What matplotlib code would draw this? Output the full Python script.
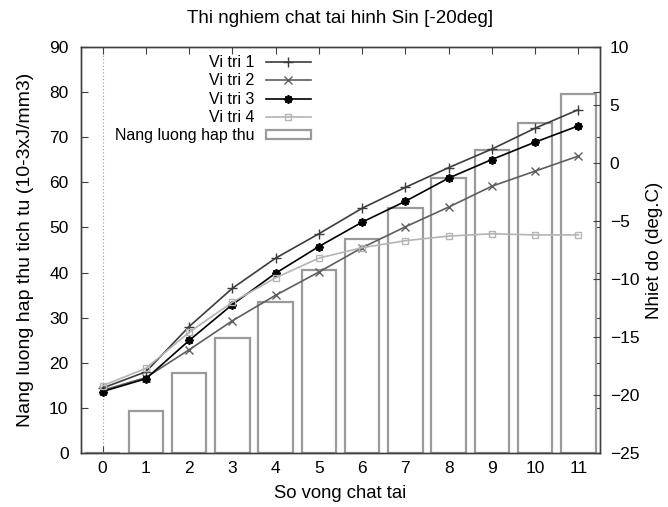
import matplotlib
matplotlib.use("Agg")
import matplotlib.pyplot as plt
import numpy as np

plt.rcParams['font.family'] = ['Liberation Sans', 'DejaVu Sans']

# ---- data ----
cycles = [0, 1, 2, 3, 4, 5, 6, 7, 8, 9, 10, 11]
energy = [0.0, 9.4, 17.8, 25.6, 33.4, 40.6, 47.4, 54.4, 60.9, 67.2, 73.2, 79.6]
vitri1 = [-19.4, -18.0, -14.1, -10.8, -8.2, -6.1, -3.9, -2.1, -0.4, 1.2, 3.0, 4.6]
vitri2 = [-19.6, -18.5, -16.1, -13.6, -11.4, -9.4, -7.3, -5.5, -3.8, -2.0, -0.7, 0.6]
vitri3 = [-19.7, -18.6, -15.3, -12.2, -9.5, -7.2, -5.1, -3.3, -1.3, 0.3, 1.8, 3.2]
vitri4 = [-19.2, -17.7, -14.6, -12.0, -9.9, -8.2, -7.3, -6.7, -6.3, -6.1, -6.2, -6.2]
series_labels = ['Vi tri 1', 'Vi tri 2', 'Vi tri 3', 'Vi tri 4']
bar_label = 'Nang luong hap thu'
left_ticks = list(range(0, 91, 10))
right_ticks = list(range(-25, 11, 5))

fig = plt.figure(figsize=(6.68, 5.07), dpi=100)
W, H = 668, 507
ax = fig.add_axes([81 / W, 1 - 453 / H, (600 - 81) / W, (453 - 47) / H])
ax2 = ax.twinx()

border = '#404040'
fs = 12.5

bars = ax.bar(cycles, energy, width=0.8, facecolor='white', edgecolor='#9a9a9a',
              linewidth=1.6, label=bar_label, zorder=2)
ax.axvline(0, color='#999999', linestyle=(0, (1, 2)), linewidth=0.8, zorder=1)

ax.set_xlim(-0.5, 11.5)
ax.set_ylim(0, 90)
ax.set_xticks(cycles)
ax.set_yticks(left_ticks)
ax2.set_ylim(-25, 10)
ax2.set_yticks(right_ticks)

styles = [
    dict(color='#3c3c3c', marker='+', ms=7, mew=1.0),
    dict(color='#5e5e5e', marker='x', ms=6, mew=1.0),
    dict(color='#000000', marker=(8, 2, 0), ms=6, mew=1.3),
    dict(color='#b4b4b4', marker='s', ms=5, mew=1.0, mfc='none'),
]
lines = []
for ys, lab, st in zip([vitri1, vitri2, vitri3, vitri4], series_labels, styles):
    ln, = ax2.plot(cycles, ys, linewidth=1.2, label=lab, **st)
    lines.append(ln)

for a in (ax, ax2):
    for s in a.spines.values():
        s.set_color(border)
        s.set_linewidth(1.0)

ax.tick_params(axis='both', direction='in', length=5, width=0.8, color=border,
               labelsize=fs, top=True, right=True, pad=9)
ax.tick_params(axis='x', pad=6)
ax2.tick_params(axis='y', direction='in', length=5, width=0.8, color=border,
                labelsize=fs, pad=7)

ax.set_xlabel('So vong chat tai', fontsize=13.3, labelpad=6)
ax.set_ylabel('Nang luong hap thu tich tu (10-3xJ/mm3)', fontsize=14, labelpad=11)
ax2.set_ylabel('Nhiet do (deg.C)', fontsize=13.5, labelpad=5)
fig.suptitle('Thi nghiem chat tai hinh Sin [-20deg]', fontsize=13.5, x=(81 + 600) / 2 / W,
             y=1 - 10 / H, va='top')

handles = lines + [bars]
labels = series_labels + [bar_label]
ax2.legend(handles, labels, loc='upper right', bbox_to_anchor=((314 - 81) / 519, 1 - 5 / 406),
           frameon=False, markerfirst=False, fontsize=11.5, borderpad=0.2,
           borderaxespad=0, handlelength=2.8, handletextpad=0.75, labelspacing=0.2,
           handleheight=0.45)

fig.savefig('out.png', dpi=100)
